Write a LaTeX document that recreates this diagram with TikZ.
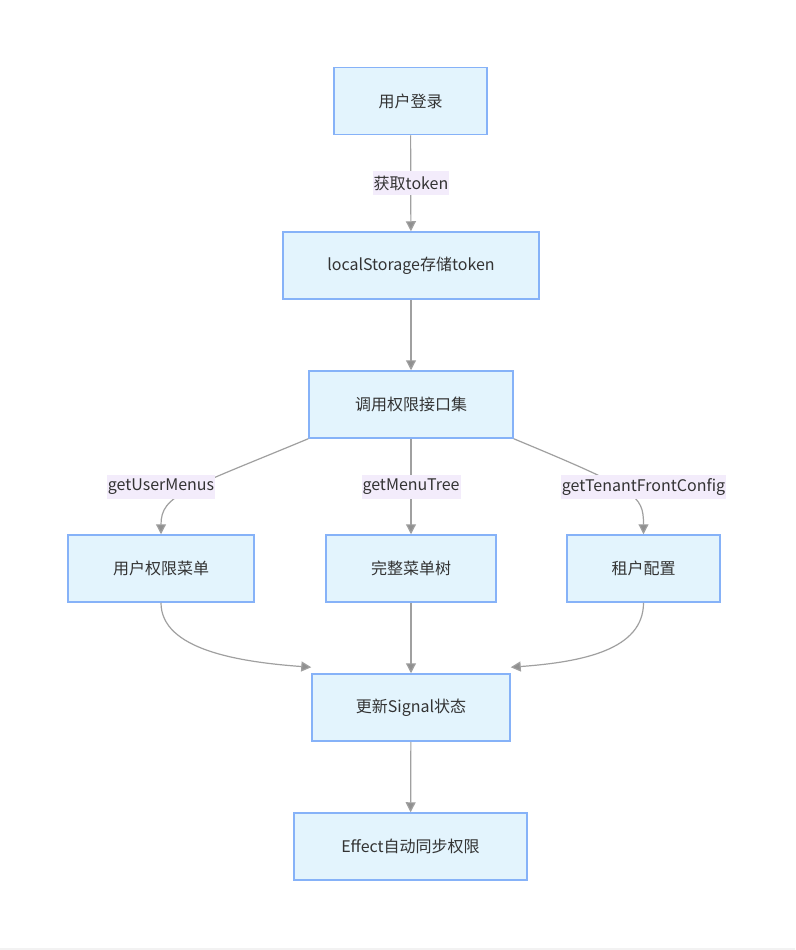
\documentclass[tikz,border=0pt]{standalone}
\usepackage{fontspec}
\setmainfont{Noto Sans CJK SC}
\usetikzlibrary{arrows.meta}
\definecolor{boxfill}{HTML}{E3F4FD}
\definecolor{boxdraw}{HTML}{86B2F8}
\definecolor{lblfill}{HTML}{F3ECFB}
\definecolor{edgecol}{HTML}{A0A0A0}
\definecolor{txtcol}{HTML}{333333}
\tikzset{
  flowbox/.style={draw=boxdraw, fill=boxfill, line width=1.5pt, rectangle,
    minimum height=67pt, inner sep=0pt, text=txtcol,
    font=\fontsize{16}{19}\selectfont},
  edgelbl/.style={fill=lblfill, inner xsep=1pt, inner ysep=0pt, minimum height=24pt,
    text=txtcol, font=\fontsize{16}{19}\selectfont},
  flowedge/.style={draw=edgecol, line width=1.2pt,
    -{Triangle[length=10pt,width=10pt,fill=edgecol!90!black]}},
}
\begin{document}
\begin{tikzpicture}[x=1pt,y=-1pt]
\useasboundingbox (0,0) rectangle (795,950);
\fill[white] (0,0) rectangle (795,950);
\fill[black!5] (0,947.5) rectangle (795,950);

\node[flowbox, minimum width=153pt] (A) at (410.5,101) {用户登录};
\node[flowbox, minimum width=256pt] (B) at (411,265.5) {localStorage存储token};
\node[flowbox, minimum width=204pt] (C) at (411,404.5) {调用权限接口集};
\node[flowbox, minimum width=186pt] (D) at (161,568.5) {用户权限菜单};
\node[flowbox, minimum width=170pt] (E) at (411,568.5) {完整菜单树};
\node[flowbox, minimum width=153pt] (F) at (643.5,568.5) {租户配置};
\node[flowbox, minimum width=198pt] (G) at (411,707.5) {更新Signal状态};
\node[flowbox, minimum width=233pt] (H) at (410.5,846.5) {Effect自动同步权限};

\draw[flowedge] (A) -- (B);
\draw[flowedge] (B) -- (C);
\draw[flowedge] (C.south west) .. controls (185,490) and (161,495) .. (D.north);
\draw[flowedge] (C) -- (E);
\draw[flowedge] (C.south east) .. controls (637,490) and (643.5,495) .. (F.north);
\draw[flowedge] (D.south) .. controls (161,650) and (240,662) .. ([yshift=6pt]G.north west);
\draw[flowedge] (E) -- (G);
\draw[flowedge] (F.south) .. controls (643.5,650) and (582,662) .. ([yshift=6pt]G.north east);
\draw[flowedge] (G) -- (H);

\node[edgelbl] (l1) at (411,183) {获取token};
\node[edgelbl] (l2) at (161,487) {getUserMenus};
\node[edgelbl] (l3) at (411,487) {getMenuTree};
\node[edgelbl] (l4) at (643.5,487) {getTenantFrontConfig};
\end{tikzpicture}
\end{document}
